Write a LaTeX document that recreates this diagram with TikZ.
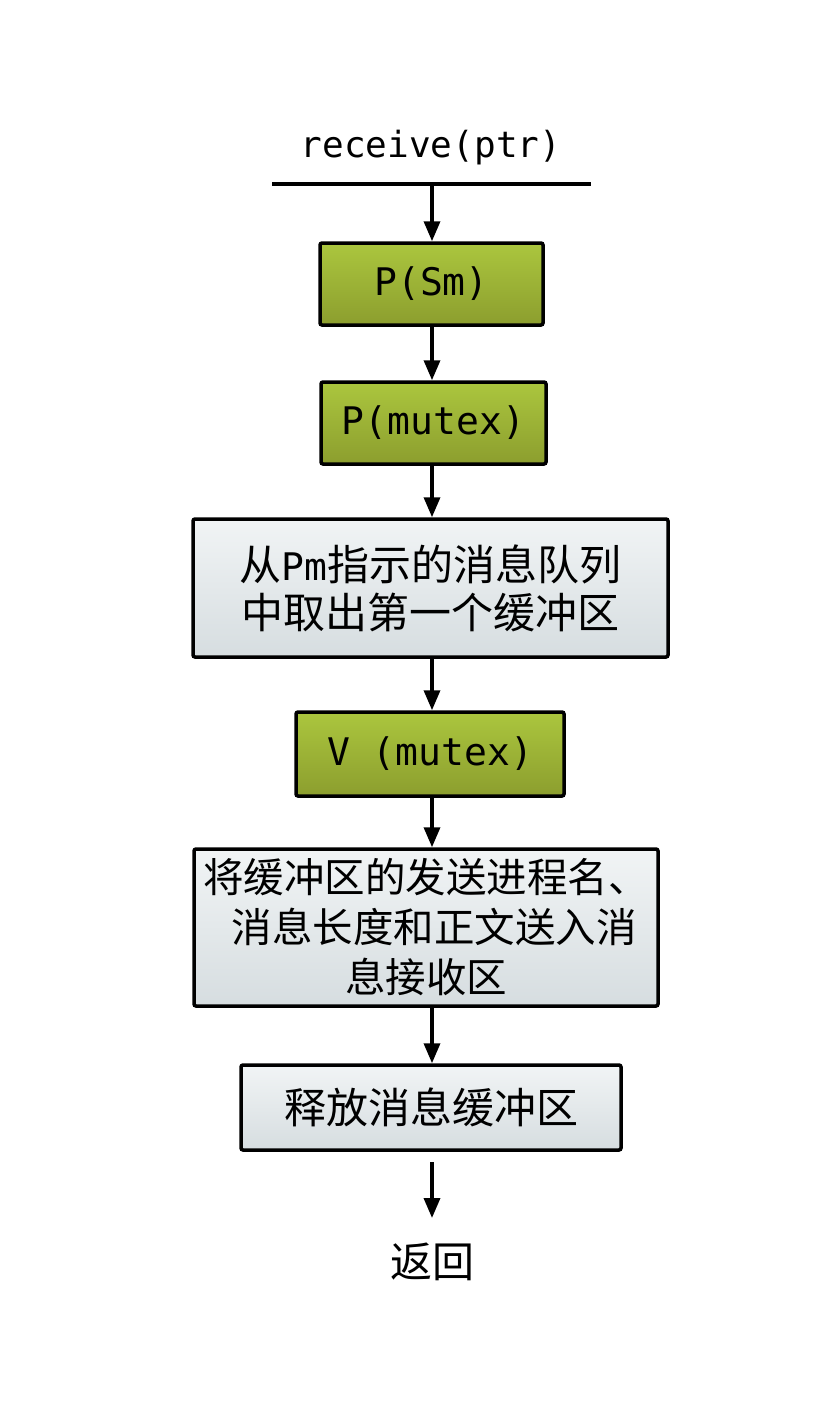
\documentclass[tikz,border=0pt]{standalone}
\usepackage{fontspec}
\newfontfamily\cjk{Noto Sans CJK SC}
\newfontfamily\monof{DejaVu Sans Mono}
\usetikzlibrary{arrows.meta}
\definecolor{gtop}{HTML}{ABC63E}
\definecolor{gbot}{HTML}{8C9E2E}
\definecolor{btop}{HTML}{F1F4F5}
\definecolor{bbot}{HTML}{D6DDE0}
\newcommand{\lat}[1]{{\monof\fontsize{38}{48}\selectfont #1}}
\tikzset{
  x=1pt,y=-1pt,
  base/.style={draw=black,line width=3.5pt,rounded corners=2pt,inner sep=0pt,
    font=\cjk\fontsize{42}{48}\selectfont,align=center,text=black},
  gbox/.style={base,top color=gtop,bottom color=gbot},
  bbox/.style={base,top color=btop,bottom color=bbot},
  arr/.style={line width=3.5pt,-{Triangle[length=20pt,width=16pt]}},
}
\begin{document}
\begin{tikzpicture}
\useasboundingbox (0,0) rectangle (828,1410);
\node[inner sep=0pt] (title) at (431,148) {{\monof\fontsize{36}{48}\selectfont receive(ptr)}};
\coordinate (la) at (272,184);
\coordinate (lb) at (591,184);
\coordinate (lm) at (432,184);
\draw[line width=3.5pt] (la) -- (lb);
\node[gbox,minimum width=223pt,minimum height=82pt] (b1) at (431.5,284) {\lat{P(Sm)}};
\node[gbox,minimum width=225pt,minimum height=82pt] (b2) at (433.5,423) {\lat{P(mutex)}};
\node[bbox,minimum width=475pt,minimum height=138pt] (b3) at (430.5,588)
  {从\lat{Pm}指示的消息队列\\中取出第一个缓冲区};
\node[gbox,minimum width=268pt,minimum height=84pt] (b4) at (430,754) {\lat{V (mutex)}};
\node[bbox,minimum width=464pt,minimum height=157pt,font=\cjk\fontsize{40.5}{50}\selectfont] (b5) at (426,927.5)
  {将缓冲区的发送进程名、\\\hspace*{16pt}消息长度和正文送入消\\息接收区};
\node[bbox,minimum width=380pt,minimum height=85pt] (b6) at (431,1107.5) {释放消息缓冲区};
\coordinate (s) at (432,1162);
\coordinate (e) at (432,1218);
\node[inner sep=0pt,font=\cjk\fontsize{42}{48}\selectfont] (ret) at (432,1262) {返回};
\draw[arr] (lm) -- (lm |- b1.north);
\draw[arr] (lm |- b1.south) -- (lm |- b2.north);
\draw[arr] (lm |- b2.south) -- (lm |- b3.north);
\draw[arr] (lm |- b3.south) -- (lm |- b4.north);
\draw[arr] (lm |- b4.south) -- (lm |- b5.north);
\draw[arr] (lm |- b5.south) -- (lm |- b6.north);
\draw[arr] (s) -- (e);
\end{tikzpicture}
\end{document}
